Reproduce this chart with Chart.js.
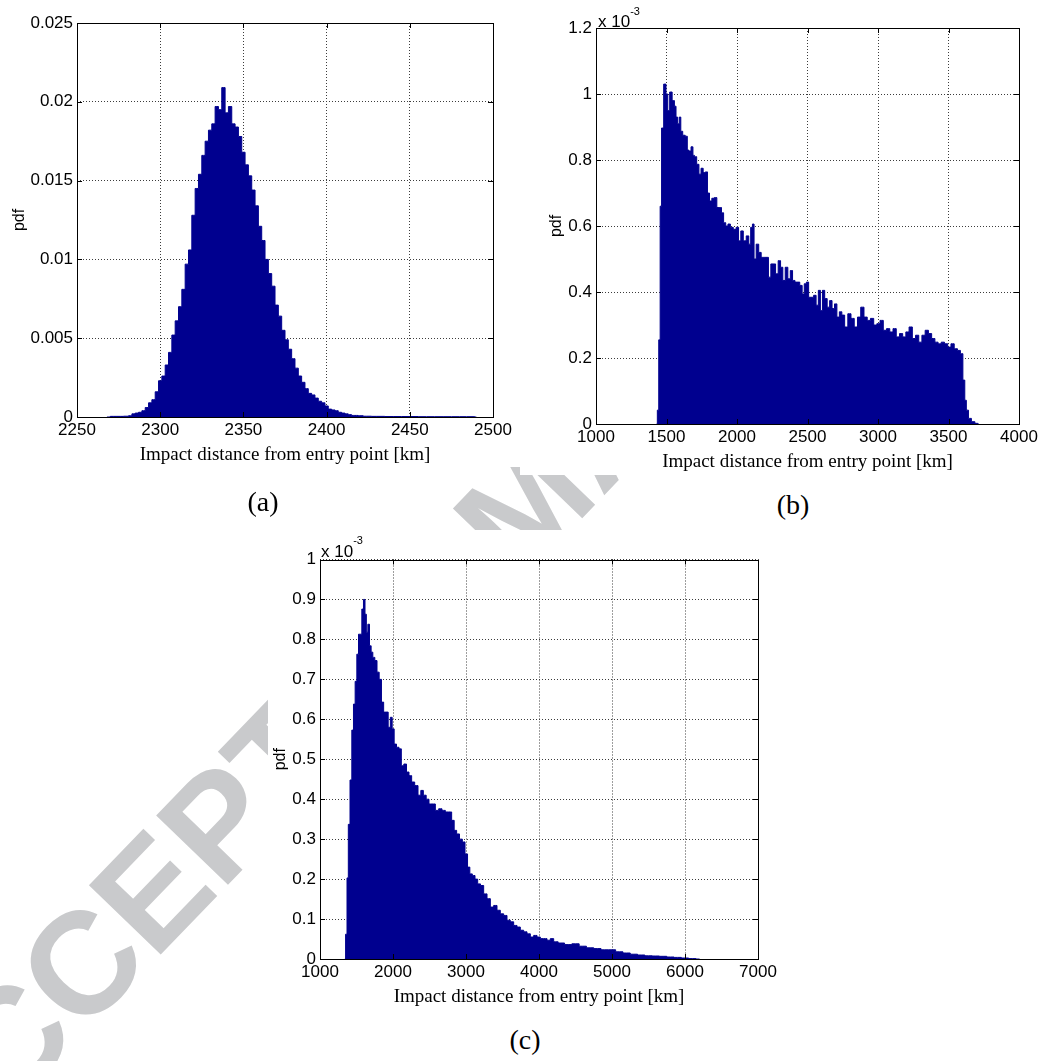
<!DOCTYPE html>
<html><head><meta charset="utf-8">
<script src="https://cdn.jsdelivr.net/npm/chart.js@4.4.1/dist/chart.umd.min.js"></script>
<style>
html,body{margin:0;padding:0;background:#fff;}
body{width:1058px;height:1061px;position:relative;overflow:hidden;}
.wrap{position:absolute;z-index:1;}
.wrap canvas{display:block;}
#wm{position:absolute;left:527px;top:504px;transform:translate(-50%,-50%) rotate(-46deg);font:bold 145px "Liberation Sans",Arial,sans-serif;color:#c9cacc;white-space:nowrap;line-height:1;z-index:0;}
.sub{position:absolute;z-index:2;font:28px "Liberation Serif",serif;transform:translate(-50%,-50%);line-height:1;white-space:nowrap;}
.exp{position:absolute;z-index:2;font:17px "Liberation Sans",Arial,sans-serif;line-height:18px;white-space:nowrap;}
.exp span{font-size:11px;position:relative;}
</style></head>
<body>
<div id="wm">ACCEPTED MANUSCRIPT</div>
<div class="wrap" style="left:0px;top:0px;"><canvas id="ca" width="520" height="467"></canvas></div>
<div class="wrap" style="left:520px;top:0px;"><canvas id="cb" width="538" height="475"></canvas></div>
<div class="wrap" style="left:268px;top:530px;"><canvas id="cc" width="522" height="480"></canvas></div>
<div class="exp" style="left:598px;top:13px;">x 10<span style="top:-12px;">-3</span></div>
<div class="exp" style="left:321px;top:543px;">x 10<span style="top:-13px;">-3</span></div>
<div class="sub" style="left:263px;top:502px;">(a)</div>
<div class="sub" style="left:793px;top:505px;">(b)</div>
<div class="sub" style="left:525px;top:1040px;">(c)</div>
<script>
// ---------- data ----------
const X_TITLE = 'Impact distance from entry point [km]';
const Y_TITLE = 'pdf';

// (a) impact distance [km] and pdf
const distA = [2268,2272,2276,2280,2282,2284,2286,2288,2290,2292,2294,2296,2298,2300,2302,2304,2306,2308,2310,2312,2314,2316,2318,2320,2322,2324,2326,2328,2330,2332,2334,2336,2338,2340,2342,2344,2346,2348,2350,2352,2354,2356,2358,2360,2362,2364,2366,2368,2370,2372,2374,2376,2378,2380,2382,2384,2386,2388,2390,2392,2394,2396,2398,2400,2402,2404,2406,2408,2410,2412,2414,2416,2418,2420,2424,2430,2440,2450,2460,2470,2480,2488,2490];
const pdfA = [0,0.00004,0.00004,0.00005,0.00008,0.0002,0.00025,0.0003,0.0004,0.0006,0.0009,0.0011,0.0016,0.0023,0.0026,0.0033,0.0041,0.0052,0.0061,0.0070,0.0081,0.0097,0.0106,0.0128,0.0145,0.0154,0.0166,0.0175,0.0182,0.0186,0.0197,0.0195,0.0209,0.0193,0.0197,0.0186,0.0184,0.0178,0.0168,0.0160,0.0153,0.0144,0.0134,0.0121,0.0112,0.0100,0.0091,0.0083,0.0071,0.0064,0.0055,0.0049,0.0043,0.0037,0.0031,0.0026,0.0022,0.0018,0.0015,0.0014,0.0012,0.0010,0.0009,0.0007,0.0005,0.00045,0.0004,0.0003,0.00025,0.0002,0.00015,0.0001,0.0001,0.00008,0.00005,0.00004,0.00003,0.00003,0.00002,0.00002,0.00002,0.00002,0];
const xTicksA = {min:2250, max:2500, step:50};
const yTicksA = {min:0, max:0.025, step:0.005};

// (b) impact distance [km] and pdf (x 10^-3)
const distB = [1430,1440,1450,1460,1470,1490,1503,1515,1530,1550,1562,1573,1585,1596,1607,1623,1642,1653,1665,1683,1692,1706,1722,1738,1752,1768,1784,1797,1813,1830,1848,1866,1882,1898,1912,1928,1944,1962,1985,2003,2019,2035,2054,2077,2090,2104,2115,2127,2145,2163,2180,2196,2214,2232,2248,2264,2283,2301,2317,2333,2351,2370,2386,2402,2420,2436,2454,2470,2484,2500,2516,2534,2553,2569,2585,2598,2614,2630,2649,2665,2683,2700,2717,2735,2752,2775,2797,2820,2843,2866,2889,2912,2935,2958,2981,3003,3026,3049,3072,3095,3118,3141,3164,3186,3209,3232,3255,3278,3300,3323,3346,3369,3392,3415,3437,3460,3483,3506,3529,3552,3575,3594,3610,3621,3632,3651,3674,3700,3715];
const pdfB_e3 = [0,0.042,0.255,0.66,0.897,1.03,1.0,0.95,1.006,0.98,0.963,0.93,0.91,0.93,0.887,0.875,0.872,0.83,0.827,0.84,0.814,0.81,0.787,0.757,0.775,0.762,0.764,0.70,0.676,0.684,0.686,0.656,0.656,0.64,0.61,0.60,0.606,0.596,0.59,0.596,0.555,0.585,0.555,0.57,0.545,0.596,0.606,0.50,0.545,0.52,0.505,0.505,0.505,0.445,0.485,0.485,0.455,0.495,0.475,0.435,0.475,0.44,0.465,0.435,0.43,0.43,0.42,0.394,0.425,0.43,0.384,0.384,0.39,0.36,0.405,0.344,0.405,0.38,0.354,0.374,0.35,0.364,0.324,0.34,0.33,0.294,0.334,0.32,0.294,0.324,0.354,0.324,0.314,0.32,0.30,0.304,0.314,0.284,0.289,0.279,0.289,0.264,0.274,0.264,0.279,0.294,0.259,0.269,0.248,0.269,0.284,0.274,0.259,0.248,0.243,0.248,0.243,0.233,0.243,0.228,0.223,0.213,0.133,0.072,0.042,0.017,0.007,0.002,0];
const xTicksB = {min:1000, max:4000, step:500};
const yTicksB = {min:0, max:1.2, step:0.2};

// (c) impact distance [km] and pdf (x 10^-3)
const distC = [1340,1361,1379,1397,1425,1447,1470,1493,1516,1539,1562,1584,1607,1626,1644,1667,1689,1712,1735,1767,1795,1826,1858,1886,1918,1950,1977,2000,2032,2064,2100,2128,2169,2201,2237,2274,2320,2365,2397,2434,2475,2511,2557,2603,2648,2694,2740,2785,2822,2854,2890,2932,2968,3005,3037,3068,3105,3142,3178,3219,3265,3311,3356,3402,3447,3493,3539,3584,3630,3676,3721,3767,3813,3858,3904,3950,3995,4041,4087,4132,4178,4224,4300,4400,4500,4600,4700,4800,4900,5000,5100,5200,5300,5400,5500,5600,5700,5800,5900,6000,6100,6200];
const pdfC_e3 = [0,0.062,0.203,0.337,0.448,0.573,0.638,0.695,0.763,0.813,0.813,0.876,0.90,0.863,0.818,0.838,0.784,0.768,0.755,0.747,0.718,0.70,0.643,0.618,0.618,0.58,0.605,0.576,0.538,0.53,0.526,0.484,0.488,0.468,0.459,0.443,0.434,0.41,0.422,0.41,0.40,0.388,0.388,0.372,0.376,0.372,0.368,0.368,0.347,0.322,0.313,0.30,0.293,0.263,0.23,0.213,0.209,0.20,0.188,0.184,0.163,0.151,0.13,0.134,0.122,0.113,0.109,0.097,0.093,0.084,0.08,0.072,0.068,0.063,0.055,0.059,0.055,0.051,0.051,0.047,0.051,0.043,0.04,0.036,0.038,0.032,0.028,0.026,0.023,0.023,0.018,0.015,0.012,0.01,0.008,0.0075,0.0067,0.005,0.004,0.0025,0.001,0];
const xTicksC = {min:1000, max:7000, step:1000};
const yTicksC = {min:0, max:1, step:0.1};

// ---------- styling ----------
const NAVY = '#00008f';
const SANS = '"Liberation Sans", Arial, Helvetica, sans-serif';
const SERIF = '"Liberation Serif", "Times New Roman", serif';

const matlabFrame = {
  id: 'matlabFrame',
  beforeDraw(chart) {
    const c = chart.ctx;
    c.save(); c.fillStyle = '#fff'; c.fillRect(0, 0, chart.width, chart.height); c.restore();
  },
  afterDatasetsDraw(chart) {
    const {ctx, chartArea: a, scales: {x, y}} = chart;
    const L = 5;
    ctx.save();
    ctx.setLineDash([]);
    ctx.strokeStyle = '#000';
    ctx.lineWidth = 1;
    ctx.beginPath();
    x.ticks.forEach(t => {
      const px = Math.round(x.getPixelForValue(t.value)) + 0.5;
      ctx.moveTo(px, a.bottom); ctx.lineTo(px, a.bottom - L);
      ctx.moveTo(px, a.top); ctx.lineTo(px, a.top + L);
    });
    y.ticks.forEach(t => {
      const py = Math.round(y.getPixelForValue(t.value)) + 0.5;
      ctx.moveTo(a.left, py); ctx.lineTo(a.left + L, py);
      ctx.moveTo(a.right, py); ctx.lineTo(a.right - L, py);
    });
    ctx.stroke();
    ctx.strokeRect(Math.round(a.left) + 0.5, Math.round(a.top) + 0.5,
                   Math.round(a.right) - Math.round(a.left), Math.round(a.bottom) - Math.round(a.top));
    ctx.restore();
  }
};

function hist(id, g, xs, ys, xr, yr) {
  const xh = g.titleY - g.bottom + 11.4;
  const grid = {drawTicks: false, color: '#3c3c3c', lineWidth: 1};
  const border = {display: false, dash: [1, 2]};
  return new Chart(document.getElementById(id), {
    type: 'line',
    data: {datasets: [{
      data: xs.map((x, i) => ({x: x, y: ys[i]})),
      stepped: 'middle', fill: 'origin',
      backgroundColor: NAVY, borderColor: NAVY, borderWidth: 1,
      pointRadius: 0, pointHoverRadius: 0
    }]},
    options: {
      responsive: false, animation: false, devicePixelRatio: 1, events: [],
      layout: {padding: {left: 0, top: g.top, right: g.w - g.right, bottom: g.h - g.bottom - xh}},
      plugins: {legend: {display: false}, tooltip: {enabled: false}},
      scales: {
        x: {
          type: 'linear', min: xr.min, max: xr.max,
          afterFit(s) { s.height = xh; },
          ticks: {stepSize: xr.step, autoSkip: false, maxRotation: 0, padding: 3, color: '#000',
                  font: {family: SANS, size: 17}, callback: v => String(v)},
          grid: grid, border: border,
          title: {display: true, text: X_TITLE, color: '#000', font: {family: SERIF, size: 19},
                  padding: {top: 0, bottom: 0}}
        },
        y: {
          type: 'linear', min: yr.min, max: yr.max,
          afterFit(s) { s.width = g.left; },
          ticks: {stepSize: yr.step, autoSkip: false, padding: 4, color: '#000',
                  font: {family: SANS, size: 17}, callback: v => String(+Number(v).toFixed(6))},
          grid: grid, border: border,
          title: {display: true, text: Y_TITLE, color: '#000', font: {family: SANS, size: 16},
                  padding: {top: g.pdfX - 9.6, bottom: 0}}
        }
      }
    },
    plugins: [matlabFrame]
  });
}

hist('ca', {w: 520, h: 467, left: 77, top: 23, right: 493, bottom: 417, titleY: 455, pdfX: 20},
     distA, pdfA, xTicksA, yTicksA);
hist('cb', {w: 538, h: 475, left: 76, top: 28, right: 499, bottom: 424, titleY: 462, pdfX: 36.7},
     distB, pdfB_e3, xTicksB, yTicksB);
hist('cc', {w: 522, h: 480, left: 52, top: 29.5, right: 490, bottom: 429, titleY: 466.7, pdfX: 13},
     distC, pdfC_e3, xTicksC, yTicksC);
</script>
</body></html>
